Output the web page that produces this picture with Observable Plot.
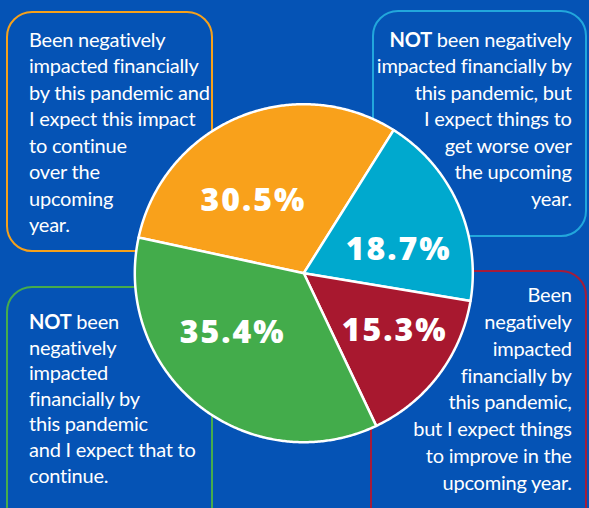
<!DOCTYPE html>
<html>
<head>
<meta charset="utf-8">
<script src="https://cdn.jsdelivr.net/npm/d3@7"></script>
<script src="https://cdn.jsdelivr.net/npm/@observablehq/plot@0.6"></script>
<style>
  html, body { margin: 0; padding: 0; background: #0553b5; }
  #wrap { position: relative; width: 589px; height: 508px; overflow: hidden; background: #0553b5; font-family: Lato, "Open Sans", sans-serif; color: #fff; }
  .box { position: absolute; box-sizing: border-box; border-width: 2.5px; border-style: solid; border-radius: 26px; }
  .txt { position: absolute; font-size: 20px; line-height: 26.5px; white-space: nowrap; letter-spacing: -0.22px; }
  .txt b { font-weight: 700; }
  #chart { position: absolute; left: 0; top: 0; }
  #chart svg { background: transparent; overflow: visible; }
</style>
</head>
<body>
<div id="wrap">
  <div class="box" style="left:6px;top:10.5px;width:207px;height:241px;border-color:#f7a11a"></div>
  <div class="box" style="left:372px;top:10px;width:215px;height:227px;border-color:#22a7dc"></div>
  <div class="box" style="left:370px;top:270px;width:217px;height:270px;border-color:#a51c3a"></div>
  <div class="box" style="left:6px;top:286px;width:207px;height:260px;border-color:#46ac4c"></div>

  <div class="txt" style="left:29px;top:25.7px;text-align:left">Been negatively<br>impacted financially<br>by this pandemic and<br>I expect this impact<br>to continue<br>over the<br>upcoming<br>year.</div>
  <div class="txt" style="right:17.3px;top:25.7px;text-align:right"><b>NOT</b> been negatively<br>impacted financially by<br>this pandemic, but<br>I expect things to<br>get worse over<br>the upcoming<br>year.</div>
  <div class="txt" style="right:17.3px;top:281.3px;text-align:right;line-height:26.8px">Been<br>negatively<br>impacted<br>financially by<br>this pandemic,<br>but I expect things<br>to improve in the<br>upcoming year.</div>
  <div class="txt" style="left:29px;top:309px;text-align:left;line-height:25.6px"><b>NOT</b> been<br>negatively<br>impacted<br>financially by<br>this pandemic<br>and I expect that to<br>continue.</div>

  <div id="chart"></div>
</div>
<script>
// ---- data ----
const categories = [
  "Negatively impacted, expect impact to continue",
  "NOT impacted, expect things to get worse",
  "Negatively impacted, expect things to improve",
  "NOT impacted, expect that to continue"
];
const shares = [30.5, 18.7, 15.3, 35.4];
const shareLabels = ["30.5%", "18.7%", "15.3%", "35.4%"];
const sliceColors = ["#f9a11b", "#00a9ce", "#a8182f", "#43ac4b"];

// ---- layout ----
const deg = Math.PI / 180;
const start = -77.8 * deg;
const arcs = d3.pie().sort(null).value(d => d).startAngle(start).endAngle(start + 2 * Math.PI)(shares);

const pts = [];
arcs.forEach((a, i) => {
  const cat = categories[i];
  pts.push({cat, x: 0, y: 0});
  const n = Math.max(2, Math.ceil((a.endAngle - a.startAngle) / (0.5 * deg)));
  for (let k = 0; k <= n; k++) {
    const t = a.startAngle + (a.endAngle - a.startAngle) * k / n;
    pts.push({cat, x: Math.sin(t), y: Math.cos(t)});
  }
  pts.push({cat, x: 0, y: 0});
});

// label anchors (angle in degrees clockwise from top, radius fraction)
const labelAnchor = [[-34.9, 0.52], [76, 0.578], [122.5, 0.637], [230, 0.55]];
const labelData = shareLabels.map((s, i) => ({
  label: s,
  x: labelAnchor[i][1] * Math.sin(labelAnchor[i][0] * deg),
  y: labelAnchor[i][1] * Math.cos(labelAnchor[i][0] * deg)
}));

const cx = 303.3, cy = 272.7, R = 169;
const W = 589, H = 508;

const plot = Plot.plot({
  width: W,
  height: H,
  marginLeft: cx - R,
  marginRight: W - (cx + R),
  marginTop: cy - R,
  marginBottom: H - (cy + R),
  x: {domain: [-1, 1], axis: null},
  y: {domain: [-1, 1], axis: null},
  color: {domain: categories, range: sliceColors},
  style: {background: "transparent", overflow: "visible"},
  marks: [
    Plot.line(pts, {x: "x", y: "y", z: "cat", fill: "cat", stroke: "white", strokeWidth: 2.5, strokeLinejoin: "round", curve: "linear"}),
    Plot.text(labelData, {x: "x", y: "y", text: "label", fill: "white", fontSize: 32, fontWeight: 800, fontFamily: "'Open Sans', sans-serif"})
  ]
});
plot.querySelectorAll("text").forEach(t => t.setAttribute("letter-spacing", "2"));
document.getElementById("chart").appendChild(plot);
</script>
</body>
</html>
